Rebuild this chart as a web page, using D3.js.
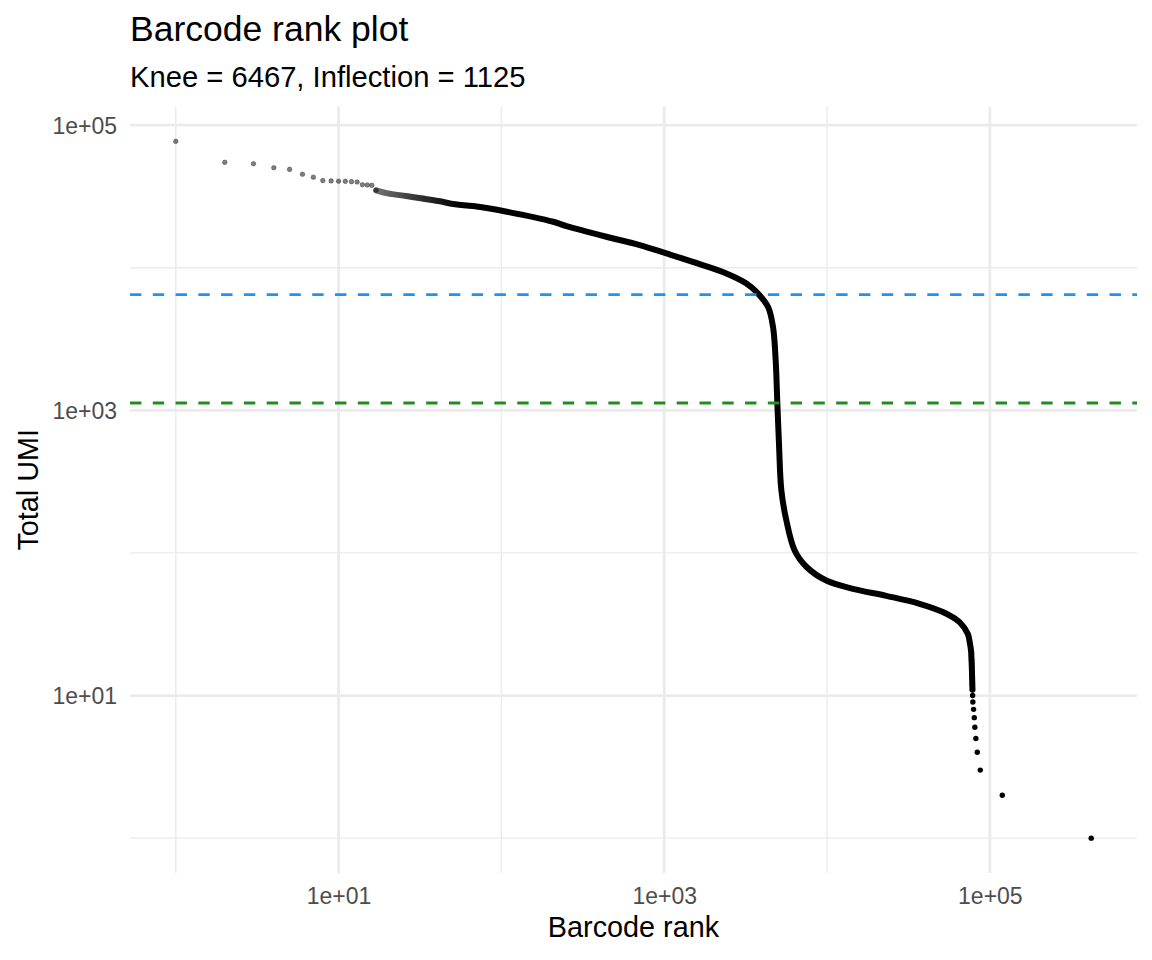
<!DOCTYPE html>
<html><head><meta charset="utf-8">
<script src="https://cdn.jsdelivr.net/npm/d3@7"></script>
<style>
body{margin:0;background:#fff}
svg{display:block}
text{font-family:"Liberation Sans",Arial,Helvetica,sans-serif}
</style>
</head><body>
<svg id="chart" width="1152" height="960"></svg>
<script>
// ---- data ----
const barcodeRank = [1,2,3,4,5,6,7,8,9,10,11,12,13,14,15,16,17,
  20,26,32,41,52,67,108,208,251,442,707,1031,1652,2409,3196,3681,4338,4656,4836,4953,5068,5241,5625,6325,7463,9901,14420,23120,37030,51450,65160,73280,75070,76890,
  77000,77150,77300,77450,77600,77750,77900,78050,78200,78400,
  78640,79430,80220,80910,82060,83700,87320,119200,419400];
const totalUMI = [76900,54800,53600,50200,48900,45200,43100,40800,40600,40400,40300,40100,39900,38200,38000,37800,34900,
  33220,31810,30650,29340,27810,27060,24690,20990,19590,16480,14410,12600,10600,9120,7760,6773,5317,3848,2246,1116,585,275,169,104,80,64,56,50,44,38.5,32.7,27,24,20,
  19,18,17,16,15,14,13,12,11,10,
  9,8,7,6,5,4,3,2,1];
const kneeValue = 6467;
const inflectionValue = 1125;
const xMajorTicks = [1e1, 1e3, 1e5];
const xMinorTicks = [1e0, 1e2, 1e4];
const yMajorTicks = [1e1, 1e3, 1e5];
const yMinorTicks = [1e0, 1e2, 1e4];
const xTickLabels = ["1e+01", "1e+03", "1e+05"];
const yTickLabels = ["1e+01", "1e+03", "1e+05"];
const titleText = "Barcode rank plot";
const subtitleText = `Knee = ${kneeValue}, Inflection = ${inflectionValue}`;
const xTitle = "Barcode rank";
const yTitle = "Total UMI";

// ---- layout ----
const panel = {left: 130, right: 1137, top: 106.5, bottom: 873};
const svg = d3.select("#chart");
const pts = barcodeRank.map((r, i) => ({r, u: totalUMI[i]}));

function expandedLogDomain(vals) {
  const lo = Math.log10(d3.min(vals)), hi = Math.log10(d3.max(vals));
  const e = (hi - lo) * 0.05;
  return [Math.pow(10, lo - e), Math.pow(10, hi + e)];
}
const x = d3.scaleLog().domain(expandedLogDomain(barcodeRank)).range([panel.left, panel.right]);
const y = d3.scaleLog().domain(expandedLogDomain(totalUMI.concat([kneeValue, inflectionValue]))).range([panel.bottom, panel.top]);

// ---- grid ----
const grid = svg.append("g");
const gridColor = "#EBEBEB";
grid.selectAll(".ymin").data(yMinorTicks).join("line")
  .attr("x1", panel.left).attr("x2", panel.right)
  .attr("y1", d => y(d)).attr("y2", d => y(d))
  .attr("stroke", gridColor).attr("stroke-width", 1.4);
grid.selectAll(".xmin").data(xMinorTicks).join("line")
  .attr("y1", panel.top).attr("y2", panel.bottom)
  .attr("x1", d => x(d)).attr("x2", d => x(d))
  .attr("stroke", gridColor).attr("stroke-width", 1.4);
grid.selectAll(".ymaj").data(yMajorTicks).join("line")
  .attr("x1", panel.left).attr("x2", panel.right)
  .attr("y1", d => y(d)).attr("y2", d => y(d))
  .attr("stroke", gridColor).attr("stroke-width", 2.8);
grid.selectAll(".xmaj").data(xMajorTicks).join("line")
  .attr("y1", panel.top).attr("y2", panel.bottom)
  .attr("x1", d => x(d)).attr("x2", d => x(d))
  .attr("stroke", gridColor).attr("stroke-width", 2.8);

// ---- points (dense run drawn as a thick stroke through the points) ----
const defs = svg.append("defs");
const grad = defs.append("linearGradient").attr("id", "fade")
  .attr("gradientUnits", "userSpaceOnUse")
  .attr("x1", x(17)).attr("x2", x(55)).attr("y1", 0).attr("y2", 0);
grad.append("stop").attr("offset", 0).attr("stop-color", "#707070");
grad.append("stop").attr("offset", 0.45).attr("stop-color", "#3a3a3a");
grad.append("stop").attr("offset", 1).attr("stop-color", "#000");

const line = d3.line().x(d => x(d.r)).y(d => y(d.u)).curve(d3.curveCatmullRom.alpha(0.5));
const dense = pts.filter(d => d.r >= 17 && d.u >= 11);
const marks = svg.append("g");
marks.append("path").attr("d", line(dense)).attr("fill", "none")
  .attr("stroke", "url(#fade)").attr("stroke-width", 6).attr("stroke-linecap", "round").attr("stroke-linejoin", "round");

marks.selectAll("circle.single").data(pts.filter(d => d.r <= 17)).join("circle")
  .attr("class", "single")
  .attr("cx", d => x(d.r)).attr("cy", d => y(d.u)).attr("r", 2.3)
  .attr("fill", "#000").attr("fill-opacity", 0.5)
  .attr("stroke", "#000").attr("stroke-opacity", 0.35).attr("stroke-width", 0.9);
marks.selectAll("circle.tie").data(pts.filter(d => d.u <= 20)).join("circle")
  .attr("class", "tie")
  .attr("cx", d => x(d.r)).attr("cy", d => y(d.u)).attr("r", 2.7)
  .attr("fill", "#000");

// ---- knee / inflection lines ----
const hl = svg.append("g");
[[kneeValue, "#1E90FF"], [inflectionValue, "#228B22"]].forEach(([v, c]) => {
  hl.append("line")
    .attr("x1", panel.left).attr("x2", panel.right)
    .attr("y1", y(v)).attr("y2", y(v))
    .attr("stroke", c).attr("stroke-width", 2.8)
    .attr("stroke-dasharray", "11.39,11.39");
});

// ---- axes ----
const xAxis = d3.axisBottom(x).tickValues(xMajorTicks)
  .tickFormat((d, i) => xTickLabels[i]).tickSize(0).tickPadding(0);
const gx = svg.append("g").attr("transform", `translate(0,${panel.bottom})`).call(xAxis);
gx.select(".domain").remove();
gx.selectAll("text").attr("y", 31.3).attr("dy", 0)
  .attr("fill", "#4D4D4D").style("font-size", "23px")
  .style("font-family", '"Liberation Sans",Arial,Helvetica,sans-serif');

const yAxis = d3.axisLeft(y).tickValues(yMajorTicks)
  .tickFormat((d, i) => yTickLabels[i]).tickSize(0).tickPadding(0);
const gy = svg.append("g").attr("transform", `translate(${panel.left},0)`).call(yAxis);
gy.select(".domain").remove();
gy.selectAll("text").attr("x", -13).attr("dy", "0.36em")
  .attr("fill", "#4D4D4D").style("font-size", "23px")
  .style("font-family", '"Liberation Sans",Arial,Helvetica,sans-serif');

// ---- titles ----
svg.append("text").attr("x", 130).attr("y", 41).style("font-size", "35.5px")
  .attr("fill", "#000").text(titleText);
svg.append("text").attr("x", 130).attr("y", 86.5).style("font-size", "29.2px")
  .attr("fill", "#000").text(subtitleText);
svg.append("text").attr("x", (panel.left + panel.right) / 2).attr("y", 937.3)
  .attr("text-anchor", "middle").style("font-size", "28.8px").attr("fill", "#000").text(xTitle);
svg.append("text").attr("transform", `translate(38,${(panel.top + panel.bottom) / 2}) rotate(-90)`)
  .attr("text-anchor", "middle").style("font-size", "28.8px").attr("fill", "#000").text(yTitle);
</script>
</body></html>
